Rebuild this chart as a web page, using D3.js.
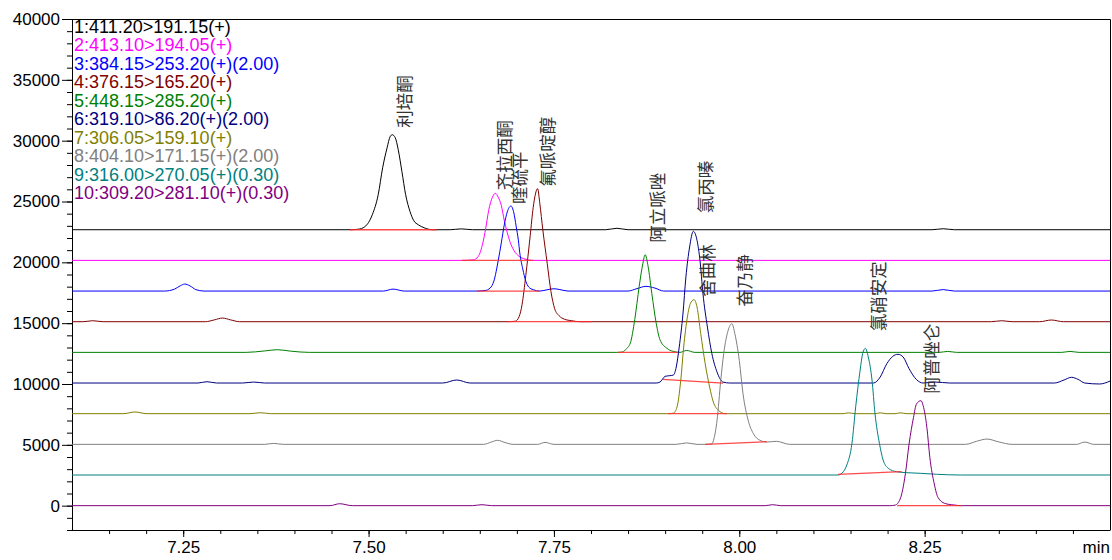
<!DOCTYPE html>
<html>
<head>
<meta charset="utf-8">
<script src="https://cdn.jsdelivr.net/npm/d3@7"></script>
<style>
  html, body { margin: 0; padding: 0; background: #fff; }
  svg { display: block; }
  .axis text { font-family: "Liberation Sans", Arial, sans-serif; font-size: 17px; fill: #000; }
  .axis path, .axis line { stroke: #000; }
</style>
</head>
<body>
<svg id="chart" width="1112" height="560"></svg>
<script>
// ---- MRM channels (Q1 > Q3 transitions) ----
const channelLabels = [
  "1:411.20>191.15(+)",
  "2:413.10>194.05(+)",
  "3:384.15>253.20(+)(2.00)",
  "4:376.15>165.20(+)",
  "5:448.15>285.20(+)",
  "6:319.10>86.20(+)(2.00)",
  "7:306.05>159.10(+)",
  "8:404.10>171.15(+)(2.00)",
  "9:316.00>270.05(+)(0.30)",
  "10:309.20>281.10(+)(0.30)"
];
const channelColors = ["#000000", "#ff00ff", "#0000ff", "#800000", "#008000",
                       "#000080", "#808000", "#808080", "#008080", "#800080"];
// vertical stacking offset of each channel (counts)
const channelOffsets = [22680, 20160, 17640, 15120, 12600, 10080, 7560, 5040, 2520, 0];
// compound identified in each channel
const compoundNames = ["利培酮", "齐拉西酮", "喹硫平", "氟哌啶醇", "阿立哌唑",
                       "氯丙嗪", "舍曲林", "奋乃静", "氯硝安定", "阿普唑仑"];

// ---- signal of each channel: [retention time (min), intensity (counts)] ----
const ch1 = [[7.10,0],[7.475,0],[7.486,40],[7.495,250],[7.505,1230],[7.513,2880],[7.519,5100],
  [7.525,6740],[7.529,7640],[7.532,7810],[7.536,7560],[7.540,6580],[7.545,4770],[7.550,2880],
  [7.556,1480],[7.561,740],[7.567,410],[7.575,160],[7.586,0],[7.61,0],[7.625,70],[7.64,0],
  [7.82,0],[7.835,120],[7.85,0],[8.26,0],[8.275,80],[8.29,0],[8.50,0]];
const ch2 = [[7.10,0],[7.626,0],[7.641,40],[7.648,330],[7.654,1400],[7.658,2630],[7.662,4110],
  [7.667,5180],[7.671,5510],[7.675,5180],[7.679,4520],[7.683,3290],[7.687,2300],[7.691,1480],
  [7.696,820],[7.703,330],[7.711,110],[7.720,0],[8.50,0]];
const ch3 = [[7.10,0],[7.225,0],[7.238,150],[7.246,430],[7.252,575],[7.259,430],[7.267,120],
  [7.278,0],[7.52,0],[7.533,160],[7.548,0],[7.646,0],[7.657,40],[7.664,250],[7.669,820],
  [7.675,2550],[7.679,3950],[7.683,5430],[7.687,6490],[7.692,6990],[7.696,6410],[7.699,5340],
  [7.702,4190],[7.704,3120],[7.708,1810],[7.712,820],[7.716,330],[7.722,110],[7.731,0],
  [7.742,120],[7.750,190],[7.758,120],[7.769,0],[7.85,0],[7.862,200],[7.874,385],[7.886,250],
  [7.898,0],[8.26,0],[8.275,120],[8.29,0],[8.50,0]];
const ch4 = [[7.10,0],[7.115,0],[7.128,80],[7.142,0],[7.28,0],[7.292,150],[7.303,300],[7.314,150],
  [7.326,0],[7.687,0],[7.698,40],[7.703,410],[7.707,1400],[7.712,3780],[7.718,7070],[7.722,9370],
  [7.728,10930],[7.731,9700],[7.735,7560],[7.741,4770],[7.746,2470],[7.751,1070],[7.757,490],
  [7.764,210],[7.774,80],[7.785,0],[8.34,0],[8.354,80],[8.368,0],[8.405,0],[8.421,140],
  [8.437,0],[8.50,0]];
const ch5 = [[7.10,0],[7.335,0],[7.36,120],[7.377,220],[7.395,100],[7.42,0],[7.836,0],[7.843,40],
  [7.847,250],[7.853,760],[7.859,2690],[7.865,5420],[7.870,7320],[7.873,8030],[7.877,7070],
  [7.882,4850],[7.888,2380],[7.893,1040],[7.902,350],[7.911,80],[7.920,0],[7.929,160],[7.94,0],
  [8.27,0],[8.281,80],[8.293,0],[8.435,0],[8.446,80],[8.458,0],[8.50,0]];
const ch6 = [[7.10,0],[7.27,0],[7.282,110],[7.295,0],[7.33,0],[7.345,80],[7.36,0],[7.60,0],
  [7.619,250],[7.637,0],[7.888,0],[7.893,80],[7.900,550],[7.9055,600],[7.911,650],[7.915,1320],
  [7.919,2960],[7.924,5670],[7.928,8710],[7.933,11180],[7.938,12470],[7.943,11730],[7.947,10080],
  [7.951,7350],[7.957,4600],[7.963,2420],[7.970,900],[7.978,80],[7.987,0],[8.181,0],[8.190,490],
  [8.199,1590],[8.207,2190],[8.214,2360],[8.221,2140],[8.229,1180],[8.239,280],[8.248,0],
  [8.264,80],[8.284,0],[8.425,0],[8.438,250],[8.448,470],[8.457,300],[8.466,0],[8.486,-80],
  [8.50,160]];
const ch7 = [[7.10,0],[7.169,0],[7.185,140],[7.201,0],[7.34,0],[7.354,80],[7.368,0],[7.904,0],
  [7.911,40],[7.916,550],[7.921,2710],[7.925,5480],[7.930,7950],[7.934,9040],[7.939,9370],
  [7.943,8770],[7.948,6580],[7.954,4110],[7.960,2190],[7.965,960],[7.972,270],[7.981,0],
  [8.14,0],[8.147,70],[8.156,0],[8.183,0],[8.19,70],[8.198,0],[8.21,0],[8.217,70],[8.226,0],
  [8.50,0]];
const ch8 = [[7.10,0],[7.36,0],[7.372,80],[7.385,0],[7.655,0],[7.666,200],[7.674,330],[7.684,150],
  [7.695,0],[7.728,0],[7.738,160],[7.75,0],[7.915,0],[7.929,120],[7.943,0],[7.954,0],[7.963,40],
  [7.966,500],[7.970,1970],[7.975,5260],[7.979,7460],[7.985,9370],[7.990,9920],[7.994,9100],
  [8.000,6900],[8.005,4170],[8.012,1970],[8.019,880],[8.028,330],[8.037,190],[8.050,250],
  [8.068,0],[8.305,0],[8.32,250],[8.334,435],[8.35,200],[8.368,0],[8.455,0],[8.466,190],
  [8.478,0],[8.50,0]];
const ch9 = [[7.10,0],[8.133,0],[8.1386,160],[8.145,820],[8.152,2610],[8.157,5610],[8.163,8630],
  [8.166,9860],[8.170,10410],[8.174,9700],[8.179,7810],[8.183,5070],[8.189,2610],[8.194,1230],
  [8.201,550],[8.212,270],[8.226,190],[8.244,140],[8.266,60],[8.298,0],[8.50,0]];
const ch10 = [[7.10,0],[7.448,0],[7.461,160],[7.478,0],[7.64,0],[7.653,80],[7.666,0],[8.035,0],
  [8.045,80],[8.056,0],[8.203,0],[8.210,40],[8.217,550],[8.224,2610],[8.229,5070],[8.235,7260],
  [8.239,8360],[8.245,8630],[8.248,8220],[8.253,6440],[8.257,3970],[8.263,1780],[8.268,680],
  [8.277,190],[8.289,60],[8.300,0],[8.50,0]];

// integration baseline of each peak: [start time, start level, end time, end level]
const peakBaselines = [
  [7.475, 0, 7.592, 0],
  [7.626, 0, 7.722, 0],
  [7.646, 0, 7.731, 0],
  [7.687, 0, 7.801, 0],
  [7.836, 0, 7.917, 0],
  [7.897, 300, 7.978, 0],
  [7.904, 0, 7.983, 0],
  [7.954, 0, 8.037, 220],
  [8.133, 60, 8.219, 270],
  [8.213, 0, 8.300, 0]
];

// axis ticks
const yMajorTicks = [0, 5000, 10000, 15000, 20000, 25000, 30000, 35000, 40000];
const xMajorTicks = [7.25, 7.50, 7.75, 8.00, 8.25];
const xUnitLabel = "min";

const channels = [ch1, ch2, ch3, ch4, ch5, ch6, ch7, ch8, ch9, ch10];

// ---- layout ----
const svg = d3.select("#chart");
const plot = { left: 72, right: 1110, top: 19, bottom: 530 };
const x = d3.scaleLinear().domain([7.1, 8.5]).range([plot.left, plot.right]);
const y = d3.scaleLinear().domain([-2000, 40000]).range([plot.bottom, plot.top]);

// label placement beside each apex (px): horizontal shift and gap above apex
const labelShift = [11.5, 8.5, 8, 8.7, 11, 11, 12.7, 11.6, 11.7, 10];
const labelGap = [7, 3, 2, 2, 12, 18, 3, 17, 17, 7];

svg.append("rect").attr("width", 1112).attr("height", 560).attr("fill", "#fff");

svg.append("defs").append("clipPath").attr("id", "plot-clip")
  .append("rect")
  .attr("x", plot.left).attr("y", plot.top)
  .attr("width", plot.right - plot.left).attr("height", plot.bottom - plot.top);

// frame: top and right edges
svg.append("path")
  .attr("d", `M${plot.left},${plot.top + 0.5}H${plot.right + 0.5}V${plot.bottom}`)
  .attr("fill", "none").attr("stroke", "#000").attr("stroke-width", 1);

// y axis: minor ticks every 1000, major every 5000
const yMinor = d3.range(-2000, 40001, 1000);
svg.append("g").attr("class", "axis")
  .attr("transform", `translate(${plot.left},0)`)
  .call(d3.axisLeft(y).tickValues(yMinor).tickSize(5).tickFormat(""))
  .call(g => g.select(".domain").remove());
svg.append("g").attr("class", "axis")
  .attr("transform", `translate(${plot.left},0)`)
  .call(d3.axisLeft(y).tickValues(yMajorTicks).tickSize(10).tickPadding(2).tickFormat(d3.format("d")))
  .call(g => g.select(".domain").attr("d", `M0.5,${plot.top}V${plot.bottom + 0.5}`));

// x axis: minor ticks every 0.05 min
const xMinor = d3.range(7.15, 8.49, 0.05);
svg.append("g").attr("class", "axis")
  .attr("transform", `translate(0,${plot.bottom})`)
  .call(d3.axisBottom(x).tickValues(xMinor).tickSize(4).tickFormat(""))
  .call(g => g.select(".domain").remove());
svg.append("g").attr("class", "axis")
  .attr("transform", `translate(0,${plot.bottom})`)
  .call(d3.axisBottom(x).tickValues(xMajorTicks).tickSize(7).tickPadding(4).tickFormat(d3.format(".2f")))
  .call(g => g.select(".domain").attr("d", `M${plot.left},0.5H${plot.right + 0.5}`));

svg.append("text")
  .attr("x", plot.right).attr("y", plot.bottom + 11)
  .attr("dy", "0.71em")
  .attr("text-anchor", "end")
  .attr("font-family", "Liberation Sans, Arial, sans-serif")
  .attr("font-size", 17)
  .text(xUnitLabel);

// chromatogram traces
const traces = svg.append("g").attr("clip-path", "url(#plot-clip)");
channels.forEach((pts, i) => {
  const off = channelOffsets[i];
  const line = d3.line()
    .x(d => x(d[0]))
    .y(d => y(d[1] + off))
    .curve(d3.curveMonotoneX);
  traces.append("path")
    .datum(pts)
    .attr("d", line)
    .attr("fill", "none")
    .attr("stroke", channelColors[i])
    .attr("stroke-width", 1);
});

// integration baselines
peakBaselines.forEach((b, i) => {
  const off = channelOffsets[i];
  traces.append("line")
    .attr("x1", x(b[0])).attr("y1", y(b[1] + off))
    .attr("x2", x(b[2])).attr("y2", y(b[3] + off))
    .attr("stroke", "#ff2a2a")
    .attr("stroke-opacity", 0.85)
    .attr("stroke-width", 1.3);
});

// compound names, written upward from each apex
channels.forEach((pts, i) => {
  const apex = pts.reduce((a, b) => (b[1] > a[1] ? b : a));
  const ax = x(apex[0]) + labelShift[i];
  const ay = y(apex[1] + channelOffsets[i]) - labelGap[i];
  svg.append("text")
    .attr("transform", `translate(${ax},${ay}) rotate(-90)`)
    .attr("text-anchor", "start")
    .attr("dominant-baseline", "central")
    .attr("font-family", "Noto Sans CJK SC, sans-serif")
    .attr("font-size", 17.5)
    .attr("fill", "#333")
    .text(compoundNames[i]);
});

// channel legend
const legend = svg.append("g");
channelLabels.forEach((t, i) => {
  legend.append("text")
    .attr("x", 74)
    .attr("y", 27 + i * 18.45)
    .attr("dominant-baseline", "central")
    .attr("font-family", "Liberation Sans, Arial, sans-serif")
    .attr("font-size", 18)
    .attr("fill", channelColors[i])
    .text(t);
});
</script>
</body>
</html>
